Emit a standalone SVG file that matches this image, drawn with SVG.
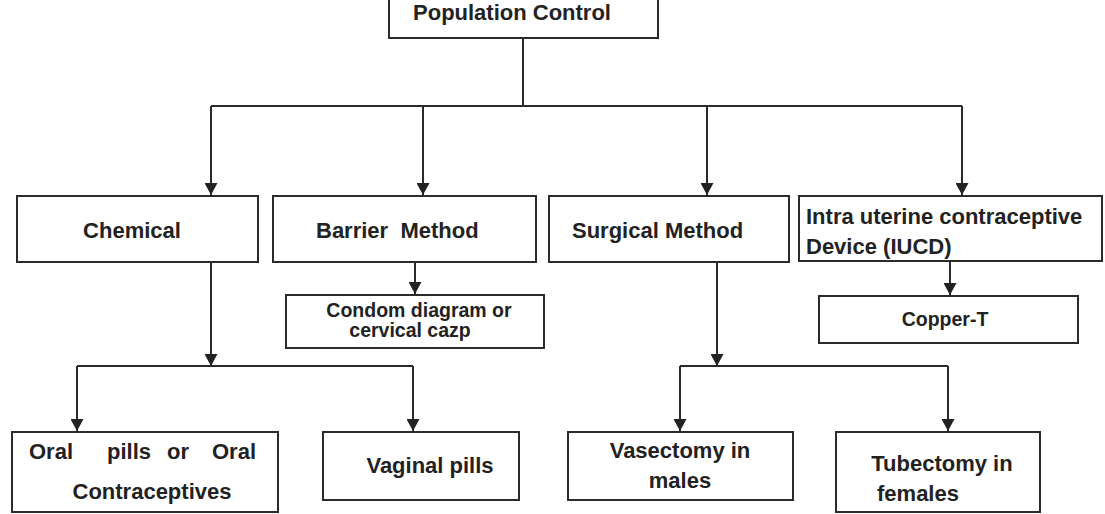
<svg xmlns="http://www.w3.org/2000/svg" width="1105" height="514" viewBox="0 0 1105 514">
<style>
.box{fill:#fff;stroke:#2b2b2b;stroke-width:2}
.t{font-family:"Liberation Sans",Arial,sans-serif;font-weight:bold;fill:#222;font-size:22px}
.s{font-size:19.5px}
.c{text-anchor:middle}
.ln{fill:none;stroke:#2b2b2b;stroke-width:2}
</style>
<defs>
<marker id="ah" markerUnits="userSpaceOnUse" markerWidth="13" markerHeight="13" refX="12" refY="6.5" orient="auto" viewBox="0 0 13 13">
<path d="M0,0 L12,6.5 L0,13 z" fill="#222"/>
</marker>
</defs>
<rect width="1105" height="514" fill="#fff"/>
<g id="connectors">
<path class="ln" d="M523,38 V106 M211,106 H962"/>
<path class="ln" d="M211,106 V195" marker-end="url(#ah)"/>
<path class="ln" d="M423,106 V195" marker-end="url(#ah)"/>
<path class="ln" d="M707,106 V195" marker-end="url(#ah)"/>
<path class="ln" d="M962,106 V195" marker-end="url(#ah)"/>
<path class="ln" d="M415,262 V294" marker-end="url(#ah)"/>
<path class="ln" d="M950,261 V295" marker-end="url(#ah)"/>
<path class="ln" d="M211,262 V366" marker-end="url(#ah)"/>
<path class="ln" d="M77,366 H413"/>
<path class="ln" d="M77,366 V431" marker-end="url(#ah)"/>
<path class="ln" d="M413,366 V431" marker-end="url(#ah)"/>
<path class="ln" d="M717,262 V366" marker-end="url(#ah)"/>
<path class="ln" d="M680,366 H948"/>
<path class="ln" d="M680,366 V431" marker-end="url(#ah)"/>
<path class="ln" d="M948,366 V431" marker-end="url(#ah)"/>
</g>
<g id="population-control">
<rect class="box" x="389" y="-5" width="269" height="43"/>
<text class="t c" x="512" y="20">Population Control</text>
</g>
<g id="chemical">
<rect class="box" x="17" y="196" width="241" height="66"/>
<text class="t c" x="132" y="238">Chemical</text>
</g>
<g id="barrier-method">
<rect class="box" x="273" y="196" width="263" height="66"/>
<text class="t" x="316" y="238" xml:space="preserve">Barrier  Method</text>
</g>
<g id="surgical-method">
<rect class="box" x="549" y="196" width="240" height="66"/>
<text class="t" x="572" y="238">Surgical Method</text>
</g>
<g id="iucd">
<rect class="box" x="799" y="196" width="303" height="65"/>
<text class="t" x="806" y="224">Intra uterine contraceptive</text>
<text class="t" x="806" y="254">Device (IUCD)</text>
</g>
<g id="condom">
<rect class="box" x="286" y="295" width="258" height="53"/>
<text class="t s c" x="419" y="317">Condom diagram or</text>
<text class="t s c" x="410" y="337">cervical cazp</text>
</g>
<g id="copper-t">
<rect class="box" x="819" y="296" width="259" height="47"/>
<text class="t s c" x="945" y="326">Copper-T</text>
</g>
<g id="oral-pills">
<rect class="box" x="12" y="432" width="266" height="80"/>
<text class="t" y="459"><tspan x="29">Oral</tspan><tspan x="107">pills</tspan><tspan x="167">or</tspan><tspan x="212">Oral</tspan></text>
<text class="t c" x="152" y="499">Contraceptives</text>
</g>
<g id="vaginal-pills">
<rect class="box" x="323" y="432" width="196" height="68"/>
<text class="t c" x="430" y="473">Vaginal pills</text>
</g>
<g id="vasectomy">
<rect class="box" x="568" y="432" width="225" height="68"/>
<text class="t c" x="680" y="458">Vasectomy in</text>
<text class="t c" x="680" y="488">males</text>
</g>
<g id="tubectomy">
<rect class="box" x="836" y="432" width="204" height="80"/>
<text class="t c" x="942" y="471">Tubectomy in</text>
<text class="t c" x="918" y="501">females</text>
</g>
</svg>
